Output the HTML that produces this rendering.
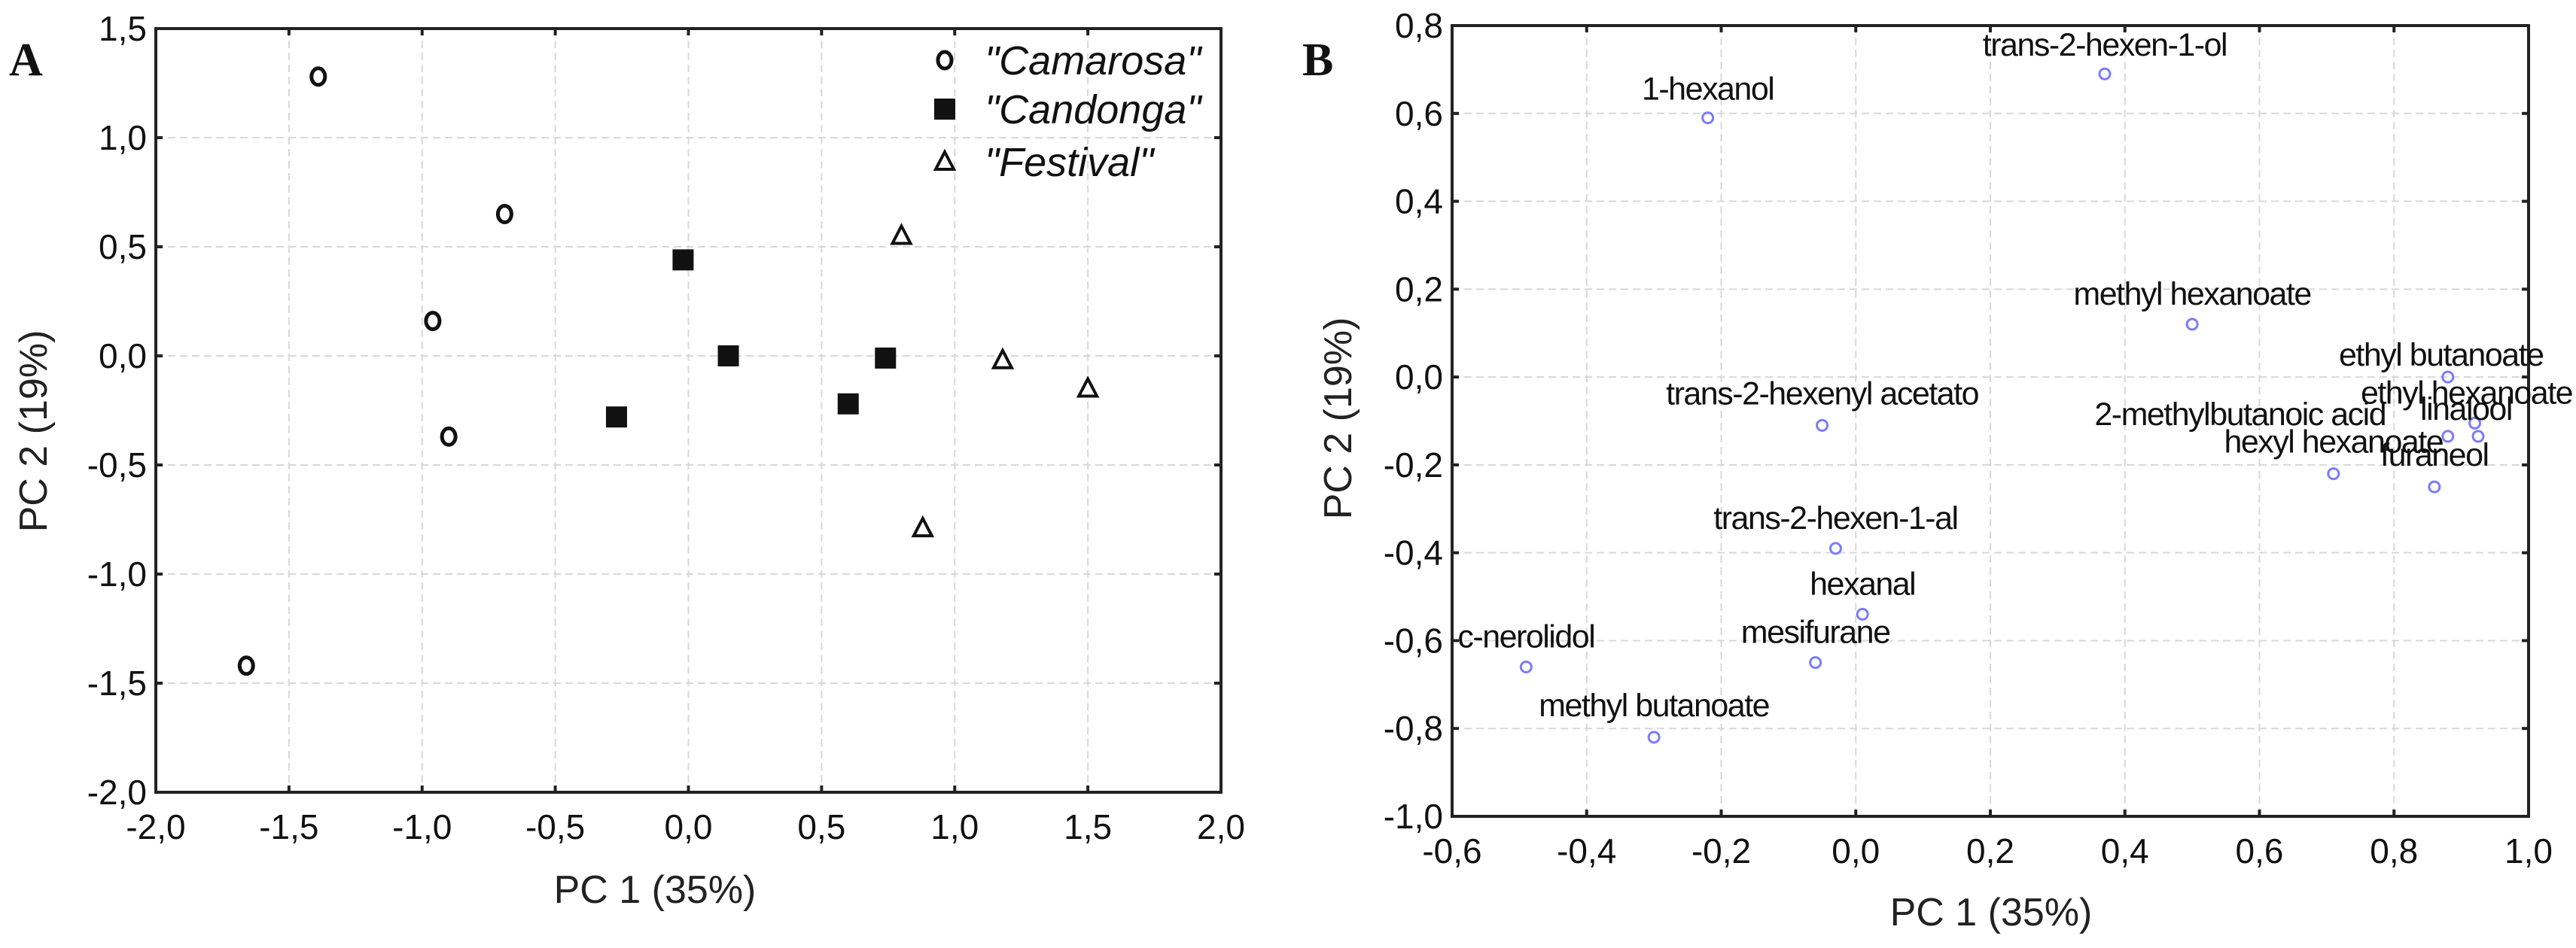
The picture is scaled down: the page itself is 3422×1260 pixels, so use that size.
<!DOCTYPE html>
<html><head><meta charset="utf-8"><style>
html,body{margin:0;padding:0;background:#fff;}
svg{display:block;font-family:"Liberation Sans",sans-serif;}
</style></head><body>
<svg id="chart" width="3422" height="1260" viewBox="0 0 3422 1260" xmlns="http://www.w3.org/2000/svg"></svg>
<script>
// ---- Panel A data ----
const camarosaX = [-1.39, -0.69, -0.96, -0.90, -1.66];
const camarosaY = [1.28, 0.65, 0.16, -0.37, -1.42];
const candongaX = [-0.02, 0.15, -0.27, 0.60, 0.74];
const candongaY = [0.44, 0.00, -0.28, -0.22, -0.01];
const festivalX = [0.80, 1.18, 1.50, 0.88];
const festivalY = [0.55, -0.02, -0.15, -0.79];
const aTicksX = [-2.0,-1.5,-1.0,-0.5,0.0,0.5,1.0,1.5,2.0];
const aTicksY = [-2.0,-1.5,-1.0,-0.5,0.0,0.5,1.0,1.5];
const legendLabels = ['"Camarosa"','"Candonga"','"Festival"'];
// ---- Panel B data ----
const compounds = ["1-hexanol","trans-2-hexen-1-ol","methyl hexanoate","ethyl butanoate","ethyl hexanoate","linalool","2-methylbutanoic acid","hexyl hexanoate","furaneol","trans-2-hexenyl acetato","trans-2-hexen-1-al","hexanal","mesifurane","c-nerolidol","methyl butanoate"];
const loadX = [-0.22, 0.37, 0.50, 0.88, 0.92, 0.925, 0.88, 0.71, 0.86, -0.05, -0.03, 0.01, -0.06, -0.49, -0.30];
const loadY = [0.59, 0.69, 0.12, 0.00, -0.105, -0.135, -0.135, -0.22, -0.25, -0.11, -0.39, -0.54, -0.65, -0.66, -0.82];
const bTicksX = [-0.6,-0.4,-0.2,0.0,0.2,0.4,0.6,0.8,1.0];
const bTicksY = [-1.0,-0.8,-0.6,-0.4,-0.2,0.0,0.2,0.4,0.6,0.8];

const labelDx = [0,0,0,-9,-11,-16,-276,0,0,0,0,0,0,0,0];
const labelDy = [-24,-24,-26,-15,-26,-22,-15,-28,-28,-28,-26,-26,-26,-26,-28];

const NS = "http://www.w3.org/2000/svg";
const svg = document.getElementById('chart');
function mk(tag, attrs, parent){ const e=document.createElementNS(NS,tag); for(const k in attrs) e.setAttribute(k,attrs[k]); (parent||svg).appendChild(e); return e; }
function fmt(v,d){ return v.toFixed(d).replace('.',','); }

function axes(g, L,R,T,B, xmin,xmax,ymin,ymax, ticksX, ticksY, dec, name){
  const sx=v=>L+(v-xmin)/(xmax-xmin)*(R-L);
  const sy=v=>B-(v-ymin)/(ymax-ymin)*(B-T);
  ticksX.forEach(v=>{ if(v>xmin&&v<xmax){ const l=mk('line',{x1:sx(v),x2:sx(v),y1:T,y2:B,stroke:'#d8d8d8','stroke-width':2,'stroke-dasharray':'10,6'},g);
      }});
  ticksY.forEach(v=>{ if(v>ymin&&v<ymax){ const l=mk('line',{x1:L,x2:R,y1:sy(v),y2:sy(v),stroke:'#d8d8d8','stroke-width':2,'stroke-dasharray':'10,6'},g);
      }});
  const fr=mk('rect',{x:L,y:T,width:R-L,height:B-T,fill:'none',stroke:'#222','stroke-width':4},g);
   
  ticksX.forEach(v=>{
    mk('line',{x1:sx(v),x2:sx(v),y1:B,y2:B-9,stroke:'#222','stroke-width':4},g);
    mk('line',{x1:sx(v),x2:sx(v),y1:T,y2:T+9,stroke:'#222','stroke-width':4},g);
    const t=mk('text',{x:sx(v),y:B+62,'text-anchor':'middle','font-size':46,fill:'#111'},g); t.textContent=fmt(v,dec);
     
  });
  ticksY.forEach(v=>{
    mk('line',{x1:L,x2:L+9,y1:sy(v),y2:sy(v),stroke:'#222','stroke-width':4},g);
    mk('line',{x1:R,x2:R-9,y1:sy(v),y2:sy(v),stroke:'#222','stroke-width':4},g);
    const t=mk('text',{x:L-12,y:sy(v)+16,'text-anchor':'end','font-size':46,fill:'#111'},g); t.textContent=fmt(v,dec);
     
  });
  return [sx,sy];
}

// ---------- Panel A ----------
const gA=mk('g',{});  
const [ax,ay]=axes(gA,207,1622,38,1053,-2,2,-2,1.5,aTicksX,aTicksY,1,'panel-a');
let t=mk('text',{x:12,y:100,'font-size':62,'font-weight':'bold','font-family':'Liberation Serif, serif',fill:'#111'},gA); t.textContent='A';
 
t=mk('text',{x:870,y:1200,'text-anchor':'middle','font-size':52,fill:'#222'},gA); t.textContent='PC 1 (35%)';
 
t=mk('text',{x:0,y:0,'text-anchor':'middle','font-size':52,fill:'#222',transform:'translate(62,573) rotate(-90)'},gA); t.textContent='PC 2 (19%)';
 

function circleA(cx,cy,g){ return mk('ellipse',{cx:cx,cy:cy,rx:9,ry:11,fill:'#fff',stroke:'#111','stroke-width':5},g); }
function squareA(cx,cy,g){ return mk('rect',{x:cx-14,y:cy-14,width:28,height:28,fill:'#111'},g); }
function triA(cx,cy,g){ return mk('path',{d:`M${cx},${cy-13} L${cx+12},${cy+10} L${cx-12},${cy+10} Z`,fill:'#fff',stroke:'#111','stroke-width':4},g); }
camarosaX.forEach((v,i)=>{ const m=circleA(ax(v),ay(camarosaY[i]),gA);
    });
candongaX.forEach((v,i)=>{ const m=squareA(ax(v),ay(candongaY[i]),gA);
    });
festivalX.forEach((v,i)=>{ const m=triA(ax(v),ay(festivalY[i]),gA);
    });
// legend
const legY=[80,145,215];
const lg=mk('g',{},gA);  
[circleA,squareA,triA].forEach((f,i)=>{
  const m=f(1255,legY[i],lg);  
  const tx=mk('text',{x:1308,y:legY[i]+19,'font-size':54,'font-style':'italic',fill:'#111'},lg); tx.textContent=legendLabels[i];
   
});

// ---------- Panel B ----------
const gB=mk('g',{});  
const [bx,by]=axes(gB,1929,3359,34,1085,-0.6,1.0,-1.0,0.8,bTicksX,bTicksY,1,'panel-b');
t=mk('text',{x:1730,y:100,'font-size':62,'font-weight':'bold','font-family':'Liberation Serif, serif',fill:'#111'},gB); t.textContent='B';
 
t=mk('text',{x:2645,y:1230,'text-anchor':'middle','font-size':52,fill:'#222'},gB); t.textContent='PC 1 (35%)';
 
t=mk('text',{x:0,y:0,'text-anchor':'middle','font-size':52,fill:'#222',transform:'translate(1795,556) rotate(-90)'},gB); t.textContent='PC 2 (19%)';
 
compounds.forEach((name,i)=>{
  const cx=bx(loadX[i]), cy=by(loadY[i]);
  const m=mk('circle',{cx:cx,cy:cy,r:7,fill:'none',stroke:'#7b7bff','stroke-width':3},gB);
   
  const lb=mk('text',{x:cx+labelDx[i],y:cy+labelDy[i],'text-anchor':'middle','font-size':43,'letter-spacing':'-1.5',fill:'#111'},gB);
  lb.textContent=name;
   
});
</script>
</body></html>
